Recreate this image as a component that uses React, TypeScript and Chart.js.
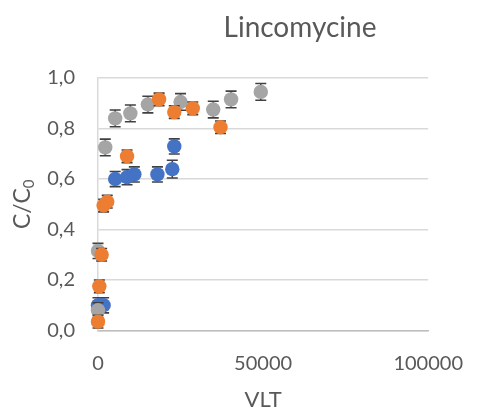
import React, { useEffect, useRef } from "react";
import { Chart, registerables } from "chart.js";

Chart.register(...registerables);

const TITLE = "Lincomycine";
const X_TITLE = "VLT";
const Y_TITLE_MAIN = "C/C";
const Y_TITLE_SUB = "0";

const blueX = [0, 1700, 5200, 8800, 11000, 18000, 22500, 23100];
const blueY = [0.10, 0.10, 0.60, 0.607, 0.618, 0.618, 0.639, 0.729];
const blueErr = [0.03, 0.03, 0.03, 0.03, 0.03, 0.03, 0.035, 0.03];

const orangeX = [0, 400, 1100, 1700, 2800, 8800, 18500, 23100, 28700, 37100];
const orangeY = [0.035, 0.175, 0.30, 0.495, 0.51, 0.69, 0.915, 0.865, 0.88, 0.805];
const orangeErr = [0.025, 0.025, 0.025, 0.025, 0.025, 0.025, 0.025, 0.025, 0.025, 0.025];

const grayX = [0, 0, 2200, 5200, 9800, 15100, 25000, 34900, 40300, 49300];
const grayY = [0.08, 0.315, 0.725, 0.84, 0.86, 0.895, 0.905, 0.875, 0.915, 0.945];
const grayErr = [0.03, 0.03, 0.033, 0.033, 0.033, 0.033, 0.033, 0.033, 0.033, 0.033];

const X_MIN = 0;
const X_MAX = 100000;
const X_STEP = 50000;
const Y_MIN = 0;
const Y_MAX = 1;
const Y_STEP = 0.2;

const FONT = "Lato, 'Open Sans', sans-serif";
const TEXT_COLOR = "#595959";

const toPoints = (xs: number[], ys: number[], es: number[]) =>
  xs.map((x, i) => ({ x, y: ys[i], e: es[i] }));

const errorBarPlugin = {
  id: "errorBars",
  beforeDatasetDraw(chart: any, args: any) {
    const ctx = chart.ctx;
    const meta = chart.getDatasetMeta(args.index);
    const ds = chart.data.datasets[args.index];
    const ys = chart.scales.y;
    ctx.save();
    ctx.strokeStyle = "#404040";
    ctx.lineWidth = 1.6;
    meta.data.forEach((pt: any, i: number) => {
      const d = ds.data[i];
      const px = pt.x;
      const top = ys.getPixelForValue(d.y + d.e);
      const bot = ys.getPixelForValue(d.y - d.e);
      ctx.beginPath();
      ctx.moveTo(px, top);
      ctx.lineTo(px, bot);
      ctx.moveTo(px - 5.5, top);
      ctx.lineTo(px + 5.5, top);
      ctx.moveTo(px - 5.5, bot);
      ctx.lineTo(px + 5.5, bot);
      ctx.stroke();
    });
    ctx.restore();
  },
};

const titlesPlugin = {
  id: "customTitles",
  afterDraw(chart: any) {
    const ctx = chart.ctx;
    const area = chart.chartArea;
    ctx.save();
    ctx.fillStyle = TEXT_COLOR;
    ctx.textBaseline = "middle";
    ctx.textAlign = "center";
    ctx.font = `28px ${FONT}`;
    ctx.fillText(TITLE, 300, 28);
    ctx.font = `22px ${FONT}`;
    ctx.fillText(X_TITLE, (area.left + area.right) / 2, 400);
    // rotated y title with subscript
    ctx.translate(23, (area.top + area.bottom) / 2);
    ctx.rotate(-Math.PI / 2);
    ctx.font = `23px ${FONT}`;
    const wMain = ctx.measureText(Y_TITLE_MAIN).width;
    ctx.font = `15px ${FONT}`;
    const wSub = ctx.measureText(Y_TITLE_SUB).width;
    const total = wMain + wSub;
    ctx.textAlign = "left";
    ctx.font = `23px ${FONT}`;
    ctx.fillText(Y_TITLE_MAIN, -total / 2, 0);
    ctx.font = `15px ${FONT}`;
    ctx.fillText(Y_TITLE_SUB, -total / 2 + wMain, 6);
    ctx.restore();
  },
};

export default function App() {
  const ref = useRef<HTMLCanvasElement | null>(null);
  useEffect(() => {
    if (!ref.current) return;
    const common = { pointRadius: 7.2, borderWidth: 0, clip: false as const };
    const chart = new Chart(ref.current, {
      type: "scatter",
      data: {
        datasets: [
          {
            label: "Series 1",
            data: toPoints(blueX, blueY, blueErr),
            backgroundColor: "#4472C4",
            borderColor: "#4472C4",
            ...common,
            order: 2,
          },
          {
            label: "Series 2",
            data: toPoints(orangeX, orangeY, orangeErr),
            backgroundColor: "#ED7D31",
            borderColor: "#ED7D31",
            ...common,
            order: 0,
          },
          {
            label: "Series 3",
            data: toPoints(grayX, grayY, grayErr),
            backgroundColor: "#A5A5A5",
            borderColor: "#A5A5A5",
            ...common,
            order: 1,
          },
        ],
      },
      options: {
        responsive: false,
        animation: false,
        devicePixelRatio: 1,
        layout: { padding: { left: 0, top: 78, right: 42, bottom: 0 } },
        plugins: {
          legend: { display: false },
          tooltip: { enabled: false },
          title: { display: false },
        },
        scales: {
          x: {
            type: "linear",
            min: X_MIN,
            max: X_MAX,
            afterFit: (s: any) => {
              s.height = 82.5;
            },
            ticks: {
              stepSize: X_STEP,
              color: TEXT_COLOR,
              font: { family: FONT, size: 20 },
              padding: 21,
              maxRotation: 0,
              callback: (v: any) => String(v),
            },
            grid: { display: false, drawTicks: false },
            border: { display: true, color: "#BFBFBF", width: 1.5 },
          },
          y: {
            type: "linear",
            min: Y_MIN,
            max: Y_MAX,
            afterFit: (s: any) => {
              s.width = 98;
            },
            ticks: {
              stepSize: Y_STEP,
              color: TEXT_COLOR,
              font: { family: FONT, size: 20 },
              padding: 23,
              callback: (v: any) => Number(v).toFixed(1).replace(".", ","),
            },
            grid: { color: "#D9D9D9", lineWidth: 1.5, drawTicks: false },
            border: { display: true, color: "#D9D9D9", width: 1.5 },
          },
        },
      },
      plugins: [errorBarPlugin, titlesPlugin],
    });
    return () => chart.destroy();
  }, []);
  return (
    <div style={{ position: "absolute", left: 0, top: 0, width: 484, height: 413, background: "#fff" }}>
      <canvas ref={ref} width={484} height={413} />
    </div>
  );
}
